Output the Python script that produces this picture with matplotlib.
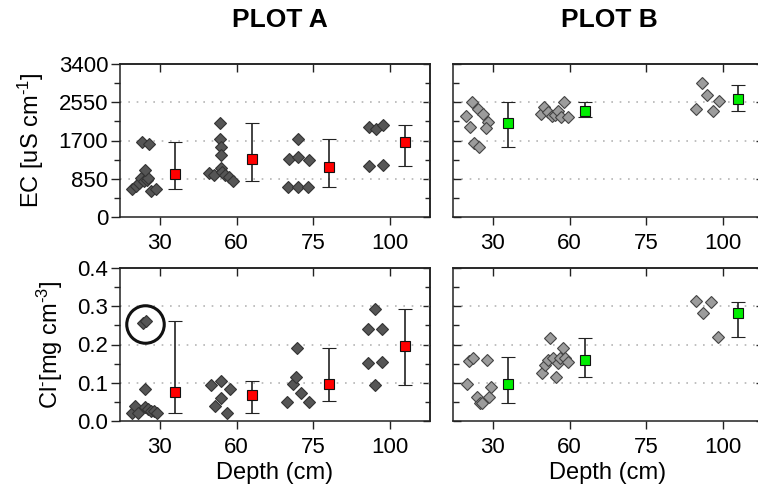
import numpy as np
import matplotlib
matplotlib.use("Agg")
import matplotlib.pyplot as plt

plt.rcParams["font.family"] = ["Liberation Sans", "DejaVu Sans"]
plt.rcParams["mathtext.fontset"] = "custom"
plt.rcParams["mathtext.rm"] = "Liberation Sans"
plt.rcParams["mathtext.it"] = "Liberation Sans"
plt.rcParams["mathtext.default"] = "regular"

# ── data ──────────────────────────────────────────────────────
depth_labels = ["30", "60", "75", "100"]

# PLOT A, EC [uS cm-1] : per-depth jitter offsets and values
ec_a_off = [[-0.36, -0.31, -0.27, -0.24, -0.21, -0.17, -0.15, -0.12, -0.05, -0.20, -0.23, -0.14],
            [-0.36, -0.30, -0.22, -0.22, -0.21, -0.21, -0.20, -0.19, -0.15, -0.10, -0.05],
            [-0.33, -0.32, -0.20, -0.20, -0.20, -0.07, -0.06],
            [-0.28, -0.18, -0.09, -0.28, -0.09]]
ec_a_val = [[622, 700, 760, 870, 800, 820, 860, 585, 622, 1044, 1673, 1615],
            [970, 925, 2082, 1726, 1563, 1378, 1082, 1000, 940, 900, 808],
            [659, 1281, 659, 1340, 1733, 674, 1266],
            [1993, 1948, 2041, 1133, 1156]]
ec_a_mean = [955, 1281, 1118, 1660]
ec_a_lo = [622, 808, 659, 1133]
ec_a_hi = [1673, 2082, 1733, 2041]

# PLOT B, EC
ec_b_off = [[-0.35, -0.27, -0.30, -0.19, -0.13, -0.07, -0.09, -0.25, -0.18],
            [-0.37, -0.33, -0.28, -0.23, -0.19, -0.15, -0.11, -0.07, -0.02],
            [],
            [-0.35, -0.28, -0.21, -0.13, -0.05]]
ec_b_val = [[2244, 2555, 1993, 2400, 2289, 2104, 1985, 1637, 1563],
            [2289, 2437, 2326, 2244, 2260, 2363, 2230, 2555, 2215],
            [],
            [2393, 2985, 2711, 2363, 2578]]
ec_b_mean = [2096, 2348, np.nan, 2623]
ec_b_lo = [1563, 2215, np.nan, 2363]
ec_b_hi = [2555, 2555, np.nan, 2940]

# PLOT A, Cl- [mg cm-3]
cl_a_off = [[-0.36, -0.33, -0.28, -0.22, -0.18, -0.20, -0.19, -0.15, -0.12, -0.08, -0.04],
            [-0.34, -0.28, -0.21, -0.21, -0.13, -0.08],
            [-0.35, -0.26, -0.22, -0.21, -0.16, -0.06],
            [-0.29, -0.29, -0.20, -0.20, -0.10, -0.10]]
cl_a_val = [[0.022, 0.040, 0.022, 0.255, 0.262, 0.084, 0.036, 0.032, 0.027, 0.025, 0.022],
            [0.094, 0.040, 0.105, 0.060, 0.022, 0.084],
            [0.050, 0.098, 0.114, 0.190, 0.074, 0.050],
            [0.152, 0.240, 0.293, 0.094, 0.240, 0.155]]
cl_a_mean = [0.077, 0.068, 0.098, 0.196]
cl_a_lo = [0.022, 0.022, 0.052, 0.094]
cl_a_hi = [0.262, 0.104, 0.190, 0.293]

# PLOT B, Cl-
cl_b_off = [[-0.34, -0.31, -0.26, -0.21, -0.17, -0.14, -0.08, -0.05, -0.02],
            [-0.36, -0.32, -0.28, -0.25, -0.22, -0.18, -0.15, -0.12, -0.08, -0.06, -0.02],
            [],
            [-0.35, -0.26, -0.16, -0.06]]
cl_b_val = [[0.096, 0.157, 0.166, 0.064, 0.048, 0.046, 0.159, 0.064, 0.090],
            [0.125, 0.146, 0.159, 0.216, 0.166, 0.114, 0.151, 0.166, 0.190, 0.164, 0.155],
            [],
            [0.315, 0.283, 0.312, 0.220]]
cl_b_mean = [0.098, 0.160, np.nan, 0.283]
cl_b_lo = [0.046, 0.114, np.nan, 0.220]
cl_b_hi = [0.167, 0.216, np.nan, 0.312]

# circled outlier pair (PLOT A, 30 cm)
circle_xy = (0.8, 0.2536)

# ── styling ───────────────────────────────────────────────────
MEAN_SHIFT = 0.2
FS_TICK = 16
FS_LAB = 17
SPINE = "#222222"
W, H = 758, 492

fig = plt.figure(figsize=(W / 100, H / 100), dpi=100, facecolor="white")


def px_axes(left, top, right, bottom):
    return fig.add_axes([left / W, 1 - bottom / H, (right - left) / W, (bottom - top) / H])


def draw_panel(ax, offs, vals, means, lo, hi, pt_fc, pt_ec, m_fc, ylim, yticks, left_labels):
    pos = np.arange(1, len(depth_labels) + 1)
    for p, o, v in zip(pos, offs, vals):
        if len(v):
            ax.plot(p + np.array(o), v, "D", ms=5.8, mfc=pt_fc, mec=pt_ec, mew=0.8,
                    ls="none", zorder=3)
    means = np.array(means, dtype=float)
    lo = np.array(lo, dtype=float)
    hi = np.array(hi, dtype=float)
    ok = ~np.isnan(means)
    ax.errorbar(pos[ok] + MEAN_SHIFT, means[ok],
                yerr=[means[ok] - lo[ok], hi[ok] - means[ok]],
                fmt="s", ms=6.5, mfc=m_fc, mec="#111111", mew=0.8,
                ecolor="#222222", elinewidth=1.2, capsize=5, capthick=1.2, zorder=4)

    ax.set_xlim(0.48, 4.52)
    ax.set_ylim(*ylim)
    ax.set_xticks(pos)
    ax.set_xticklabels(depth_labels)
    ax.set_yticks(yticks)
    minor = (np.array(yticks[:-1]) + np.array(yticks[1:])) / 2
    ax.set_yticks(minor, minor=True)
    ax.set_xticks([], minor=True)

    for sp in ax.spines.values():
        sp.set_color(SPINE)
        sp.set_linewidth(1.1)

    ax.tick_params(axis="x", direction="out", length=5.5, width=1.0, color=SPINE,
                   labelsize=FS_TICK, pad=6, top=False)
    if left_labels:
        ax.tick_params(axis="y", which="major", direction="out", length=6.5, width=1.0,
                       color=SPINE, labelsize=FS_TICK, pad=2, right=False)
        ax.tick_params(axis="y", which="minor", direction="out", length=4, width=1.0,
                       color=SPINE, right=False)
    else:
        ax.tick_params(axis="y", which="major", direction="in", length=6, width=1.0,
                       color=SPINE, labelleft=False, right=False)
        ax.tick_params(axis="y", which="minor", direction="in", length=4, width=1.0,
                       color=SPINE, right=False)

    # mirrored ticks pointing inwards
    top = ax.secondary_xaxis("top")
    top.set_xticks(pos)
    top.tick_params(axis="x", direction="in", length=5.5, width=1.0, color=SPINE,
                    labeltop=False)
    top.spines["top"].set_color(SPINE)
    top.spines["top"].set_linewidth(1.1)
    rgt = ax.secondary_yaxis("right")
    rgt.set_yticks(yticks)
    rgt.set_yticks(minor, minor=True)
    rgt.tick_params(axis="y", which="major", direction="in", length=5, width=1.0,
                    color=SPINE, labelright=False)
    rgt.tick_params(axis="y", which="minor", direction="in", length=3.5, width=1.0,
                    color=SPINE)
    rgt.spines["right"].set_color(SPINE)
    rgt.spines["right"].set_linewidth(1.1)

    for yv in yticks[1:-1]:
        ax.axhline(yv, color="#b5b5b5", lw=1.2, ls=(0, (1, 4)), zorder=1)


ec_ticks = [0, 850, 1700, 2550, 3400]
cl_ticks = [0.0, 0.1, 0.2, 0.3, 0.4]

ax_a1 = px_axes(120, 64, 430, 217)
ax_b1 = px_axes(453, 64, 763, 217)
ax_a2 = px_axes(120, 268, 430, 421)
ax_b2 = px_axes(453, 268, 763, 421)

draw_panel(ax_a1, ec_a_off, ec_a_val, ec_a_mean, ec_a_lo, ec_a_hi,
           "#555555", "#333333", "#ff0000", (0, 3400), ec_ticks, True)
draw_panel(ax_b1, ec_b_off, ec_b_val, ec_b_mean, ec_b_lo, ec_b_hi,
           "#9c9c9c", "#444444", "#00ee00", (0, 3400), ec_ticks, False)
draw_panel(ax_a2, cl_a_off, cl_a_val, cl_a_mean, cl_a_lo, cl_a_hi,
           "#555555", "#333333", "#ff0000", (0, 0.4), cl_ticks, True)
draw_panel(ax_b2, cl_b_off, cl_b_val, cl_b_mean, cl_b_lo, cl_b_hi,
           "#9c9c9c", "#444444", "#00ee00", (0, 0.4), cl_ticks, False)

ax_a1.set_yticklabels([str(t) for t in ec_ticks])
ax_a2.set_yticklabels([f"{t:.1f}" for t in cl_ticks])

ax_a2.plot(*circle_xy, "o", ms=27, mfc="none", mec="#111111", mew=2.2, zorder=5)

ax_a1.set_ylabel("EC [uS cm$^{\\text{-}1}$]", fontsize=FS_LAB, labelpad=9)
ax_a2.set_ylabel("Cl$^{\\text{-}}$[mg cm$^{\\text{-}3}$]", fontsize=FS_LAB, labelpad=9)
ax_a2.set_xlabel("Depth (cm)", fontsize=FS_LAB, labelpad=3)
ax_b2.set_xlabel("Depth (cm)", fontsize=FS_LAB, labelpad=3)

fig.text(280 / W, 1 - 20 / H, "PLOT A", fontsize=19, fontweight="bold",
         ha="center", va="center")
fig.text(609 / W, 1 - 20 / H, "PLOT B", fontsize=19, fontweight="bold",
         ha="center", va="center")

fig.savefig("out.png", dpi=100, facecolor="white")
